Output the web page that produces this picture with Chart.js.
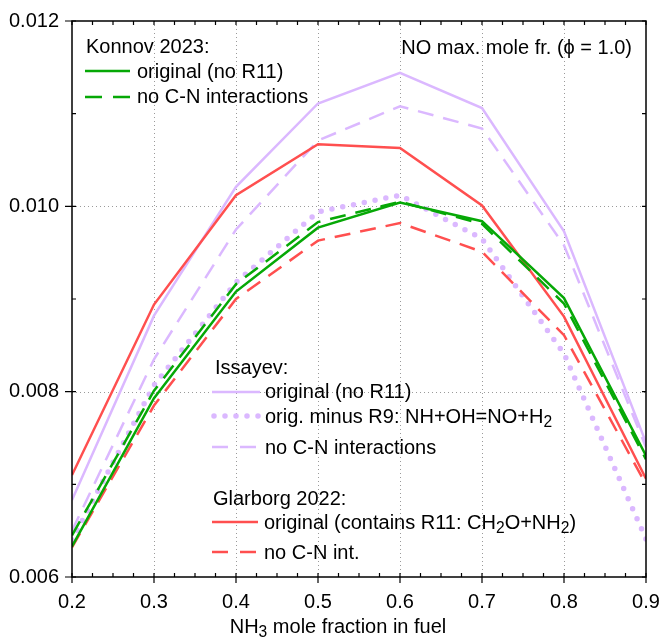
<!DOCTYPE html>
<html>
<head>
<meta charset="utf-8">
<script src="https://cdn.jsdelivr.net/npm/chart.js@4.4.1/dist/chart.umd.min.js"></script>
<style>
  body { margin: 0; background: #fff; }
  #wrap { width: 660px; height: 638px; position: relative; }
</style>
</head>
<body>
<div id="wrap"><canvas id="js--chart"></canvas></div>
<script>
const fracNH3 = [0.2, 0.3, 0.4, 0.5, 0.6, 0.7, 0.8, 0.9];

// Konnov 2023
const konnovOrig = [0.00633, 0.00793, 0.00908, 0.00977, 0.01004, 0.00984, 0.00901, 0.00731];
const konnovNoCN = [0.00645, 0.00801, 0.00916, 0.00983, 0.01005, 0.00981, 0.00895, 0.00727];
// Issayev
const issOrig = [0.00683, 0.00882, 0.01021, 0.01111, 0.01144, 0.01106, 0.00973, 0.00745];
const issMinusR9 = [0.00640, 0.00807, 0.00918, 0.00994, 0.01012, 0.00965, 0.00841, 0.00641];
const issNoCN = [0.00650, 0.00835, 0.00975, 0.01071, 0.01108, 0.01084, 0.00958, 0.00740];
// Glarborg 2022
const glarOrig = [0.00710, 0.00894, 0.01012, 0.01067, 0.01063, 0.01001, 0.00881, 0.00706];
const glarNoCN = [0.00632, 0.00785, 0.00900, 0.00963, 0.00982, 0.00951, 0.00861, 0.00700];

const xTicks = [0.2, 0.3, 0.4, 0.5, 0.6, 0.7, 0.8, 0.9];
const yTicks = [0.006, 0.008, 0.010, 0.012];

const GREEN = '#06a806';
const RED = '#ff4f4f';
const PURPLE = '#dbb8ff';
const FONT = '"Liberation Sans", Arial, sans-serif';
const FS = 20;

const SOLID = [];
const DASH = [16, 10];
const DOT = [0, 11];

function pts(ys) {
  return ys.map(function (y, i) { return { x: fracNH3[i], y: y }; });
}

function ds(ys, color, dash, width) {
  return {
    data: pts(ys),
    borderColor: color,
    borderDash: dash,
    borderWidth: width || 2.5,
    borderCapStyle: dash === DOT ? 'round' : 'butt',
    pointRadius: 0,
    tension: 0,
    fill: false
  };
}

// draw a string with subscript parts: parts = [[text, isSub], ...]
function measureRich(ctx, parts) {
  let w = 0;
  parts.forEach(function (p) {
    ctx.font = (p[1] ? FS * 0.78 : FS) + 'px ' + FONT;
    w += ctx.measureText(p[0]).width;
  });
  ctx.font = FS + 'px ' + FONT;
  return w;
}

function richText(ctx, parts, x, y) {
  let cx = x;
  parts.forEach(function (p) {
    if (p[1]) {
      ctx.font = (FS * 0.78) + 'px ' + FONT;
      ctx.fillText(p[0], cx, y + 6);
    } else {
      ctx.font = FS + 'px ' + FONT;
      ctx.fillText(p[0], cx, y);
    }
    cx += ctx.measureText(p[0]).width;
  });
  ctx.font = FS + 'px ' + FONT;
  return cx - x;
}

function sample(ctx, x1, x2, y, color, dash, width) {
  ctx.save();
  ctx.strokeStyle = color;
  ctx.lineWidth = width || 2.5;
  ctx.setLineDash(dash);
  ctx.lineCap = dash === DOT ? 'round' : 'butt';
  ctx.beginPath();
  ctx.moveTo(x1, y);
  ctx.lineTo(x2, y);
  ctx.stroke();
  ctx.restore();
}

const framePlugin = {
  id: 'frame',
  beforeDatasetsDraw(chart) {
    const ctx = chart.ctx, a = chart.chartArea;
    const xs = chart.scales.x, ys = chart.scales.y;
    ctx.save();
    ctx.strokeStyle = '#9a9a9a';
    ctx.lineWidth = 1;
    ctx.setLineDash([1, 3]);
    xTicks.slice(1, -1).forEach(function (v) {
      const px = Math.round(xs.getPixelForValue(v)) + 0.5;
      ctx.beginPath(); ctx.moveTo(px, a.top); ctx.lineTo(px, a.bottom); ctx.stroke();
    });
    yTicks.slice(1, -1).forEach(function (v) {
      const py = Math.round(ys.getPixelForValue(v)) + 0.5;
      ctx.beginPath(); ctx.moveTo(a.left, py); ctx.lineTo(a.right, py); ctx.stroke();
    });
    ctx.restore();
  },
  afterDraw(chart) {
    const ctx = chart.ctx, a = chart.chartArea;
    const xs = chart.scales.x, ys = chart.scales.y;
    ctx.save();
    ctx.strokeStyle = '#000';
    ctx.lineWidth = 1.5;
    ctx.setLineDash([]);
    ctx.strokeRect(a.left, a.top, a.right - a.left, a.bottom - a.top);

    // ticks
    ctx.lineWidth = 1.2;
    ctx.beginPath();
    for (let i = 0; i <= 28; i++) {
      const v = 0.2 + i * 0.025;
      const px = xs.getPixelForValue(v);
      const major = i % 4 === 0;
      ctx.moveTo(px, a.bottom); ctx.lineTo(px, a.bottom - 4);
      ctx.moveTo(px, a.top); ctx.lineTo(px, a.top + 4);
      if (major) { ctx.moveTo(px, a.bottom); ctx.lineTo(px, a.bottom + 6); }
    }
    for (let i = 0; i <= 6; i++) {
      const v = 0.006 + i * 0.001;
      const py = ys.getPixelForValue(v);
      const major = i % 2 === 0;
      ctx.moveTo(a.left, py); ctx.lineTo(a.left + 4, py);
      ctx.moveTo(a.right, py); ctx.lineTo(a.right - 4, py);
      if (major) { ctx.moveTo(a.left, py); ctx.lineTo(a.left - 7, py); }
    }
    ctx.stroke();

    // texts
    ctx.fillStyle = '#000';
    ctx.textBaseline = 'middle';
    ctx.textAlign = 'left';
    ctx.font = FS + 'px ' + FONT;

    // x axis title, centred a little left of the plot middle
    const title = [['NH', false], ['3', true], [' mole fraction in fuel', false]];
    richText(ctx, title, 338 - measureRich(ctx, title) / 2, 627);

    // top right note
    ctx.textAlign = 'right';
    ctx.fillText('NO max. mole fr. (\u03d5 = 1.0)', 632, 48);
    ctx.textAlign = 'left';

    // Konnov legend
    ctx.fillText('Konnov 2023:', 86, 47);
    sample(ctx, 85, 130, 71, GREEN, SOLID);
    ctx.fillText('original (no R11)', 137, 72);
    sample(ctx, 85, 130, 97, GREEN, [17, 11]);
    ctx.fillText('no C-N interactions', 137, 97);

    // Issayev legend
    ctx.fillText('Issayev:', 215, 368);
    sample(ctx, 212, 260, 392, PURPLE, SOLID);
    ctx.fillText('original (no R11)', 265, 392);
    sample(ctx, 214, 260, 416, PURPLE, DOT, 5.5);
    richText(ctx, [['orig. minus R9: NH+OH=NO+H', false], ['2', true]], 265, 417);
    sample(ctx, 212, 260, 447, PURPLE, [16, 12]);
    ctx.fillText('no C-N interactions', 265, 448);

    // Glarborg legend
    ctx.fillText('Glarborg 2022:', 213, 499);
    sample(ctx, 212, 258, 522, RED, SOLID);
    richText(ctx, [['original (contains R11: CH', false], ['2', true], ['O+NH', false], ['2', true], [')', false]], 264, 523);
    sample(ctx, 212, 258, 552, RED, [16, 12]);
    ctx.fillText('no C-N int.', 264, 553);
    ctx.restore();
  }
};

const config = {
  type: 'line',
  data: {
    datasets: [
      ds(konnovOrig, GREEN, SOLID),
      ds(konnovNoCN, GREEN, DASH),
      ds(glarOrig, RED, SOLID),
      ds(glarNoCN, RED, DASH),
      ds(issMinusR9, PURPLE, DOT, 5.5),
      ds(issOrig, PURPLE, SOLID),
      ds(issNoCN, PURPLE, DASH)
    ]
  },
  options: {
    responsive: true,
    maintainAspectRatio: false,
    animation: false,
    layout: { padding: { top: 21, right: 14, left: 0, bottom: 0 } },
    plugins: { legend: { display: false }, tooltip: { enabled: false } },
    scales: {
      x: {
        type: 'linear',
        min: 0.2,
        max: 0.9,
        grid: { display: false },
        border: { display: false },
        afterFit: function (s) { s.height = 61; s.paddingLeft = 0; s.paddingRight = 0; },
        afterBuildTicks: function (s) { s.ticks = xTicks.map(function (v) { return { value: v }; }); },
        ticks: {
          padding: 5,
          color: '#000',
          font: { family: FONT, size: FS },
          maxRotation: 0,
          autoSkip: false,
          callback: function (v) { return v.toFixed(1); }
        }
      },
      y: {
        min: 0.006,
        max: 0.012,
        grid: { display: false },
        border: { display: false },
        afterFit: function (s) { s.width = 72; s.paddingTop = 0; s.paddingBottom = 0; },
        afterBuildTicks: function (s) { s.ticks = yTicks.map(function (v) { return { value: v }; }); },
        ticks: {
          padding: 5,
          color: '#000',
          font: { family: FONT, size: FS },
          callback: function (v) { return v.toFixed(3); }
        }
      }
    }
  },
  plugins: [framePlugin]
};

const chart = new Chart(document.getElementById('js--chart'), config);
</script>
</body>
</html>
